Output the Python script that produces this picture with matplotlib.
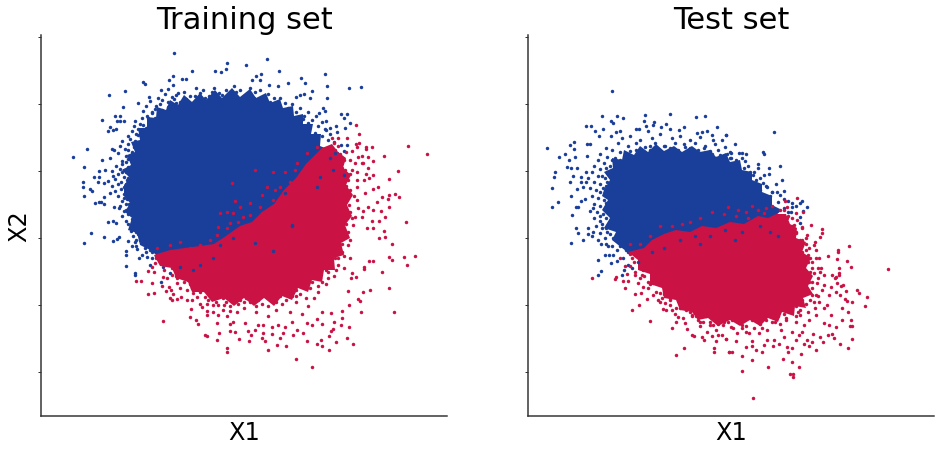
import matplotlib
matplotlib.use('Agg')
import matplotlib.pyplot as plt

# values, axes have no tick labels so units are arbitrary
blue = '#1A3F9A'
red = '#CB1244'
y_ticks = [37, 104, 171, 238, 305, 372]

# solid areas where the points fully overlap
train_blue_core = [(124,185),(130,178),(122,170),(131,165),(127,155),(135,152),(131,142),(140,140),(138,128),(147,128),(147,117),(156,118),(157,107),(166,110),(170,100),(178,105),(184,95),(192,102),(200,93),(206,100),(215,90),(222,98),(232,88),(240,97),(250,89),(256,98),(266,93),(270,103),(280,99),(283,108),(293,106),(294,116),(303,114),(303,124),(313,124),(311,134),(321,134),(320,146),(330,150),(300,200),(200,260),(160,258),(150,250),(140,245),(137,233),(128,230),(132,218),(125,212),(130,203),(124,196)]
train_red_core = [(322,148),(332,144),(338,152),(346,158),(343,168),(351,175),(346,185),(353,195),(347,205),(352,216),(345,225),(350,238),(341,243),(344,255),(334,258),(335,270),(324,270),(322,282),(312,280),(308,292),(298,288),(292,300),(282,296),(274,306),(264,298),(254,306),(244,298),(234,306),(224,298),(212,302),(204,292),(192,292),(188,282),(176,278),(172,268),(160,266),(154,255),(170,250),(200,246),(214,244),(226,236),(240,226),(252,222),(262,212),(274,204),(284,190),(296,178),(306,164),(314,156)]
test_blue_core = [(604,190),(610,180),(604,172),(613,168),(612,158),(622,160),(624,150),(634,155),(640,146),(648,152),(656,144),(664,151),(674,146),(682,152),(692,146),(700,152),(710,150),(716,157),(726,153),(730,162),(740,160),(742,170),(752,172),(752,180),(762,184),(762,192),(772,196),(772,205),(782,210),(775,216),(700,250),(630,254),(622,248),(612,240),(616,232),(604,228),(610,218),(602,210),(608,200),(602,196)]
test_red_core = [(776,214),(786,214),(790,224),(797,228),(796,238),(806,242),(802,252),(811,258),(806,268),(813,276),(808,286),(813,294),(803,298),(806,308),(795,306),(794,316),(782,312),(778,322),(768,318),(760,326),(750,320),(740,326),(730,320),(718,326),(708,318),(698,320),(692,312),(680,310),(676,300),(664,298),(662,288),(650,284),(650,274),(638,270),(638,260),(628,252),(644,248),(652,240),(664,234),(676,230),(690,232),(702,226),(716,228),(730,222),(744,224),(758,216),(768,218)]

train_blue_pts = [(174,53),(227,63),(192,71),(173,76),(169,80),(182,79),(186,79),(215,71),(221,72),(226,69),(143,82),(145,84),(125,91),(109,95),(161,90),(173,85),(168,89),(149,97),(138,103),(123,107),(102,120),(115,116),(120,116),(117,121),(120,121),(124,121),(110,127),(108,131),(113,130),(116,129),(87,149),(73,157),(84,167),(102,160),(110,158),(112,149),(99,171),(105,170),(94,177),(99,177),(83,182),(98,182),(104,183),(83,187),(90,189),(92,191),(84,196),(110,193),(104,197),(95,203),(99,202),(101,202),(104,204),(114,207),(119,208),(108,222),(113,221),(116,223),(84,243),(91,233),(104,237),(113,241),(117,239),(119,237),(126,251),(126,255),(126,266),(135,273),(135,275),(139,258),(142,255),(137,249),(132,246),(128,241),(135,242),
    (267,59),(246,65),(279,71),(261,74),(256,76),(252,80),(260,80),(301,78),(325,74),(288,83),(305,83),(327,86),(349,88),(361,87),(312,91),(296,97),(300,95),(304,94),(327,98),(310,98),(278,86),(269,85),(341,114),(347,114),(344,118),(350,123),(345,128),(336,126),(326,121),(319,113),(323,108),(325,111),(330,128),(325,129),(337,132),(347,145),(341,145),(344,151),(337,153),
    (161,282),(170,273),(163,267),(165,262),(150,265),(147,257),(152,252),(157,255),(168,258),
    # fringe around the solid area
    (165,94),(172,97),(178,93),(195,96),(200,93),(205,98),(212,92),(222,95),(232,97),(236,92),(248,95),(255,92),(150,101),(158,98),(180,102),(186,99),(192,103),(198,100),(208,102),(216,99),(224,101),(230,98),(243,100),(262,97),(270,102),(146,106),(160,104),(168,107),(176,103),(184,106),(190,108),(206,106),(214,104),(222,107),(238,105),(250,103),(258,106),(268,104),(276,108),(143,111),(155,109),(165,112),(173,108),(181,111),(197,109),(205,111),(247,108),(262,110),(272,107),(284,110),(147,116),(152,113),(160,117),(170,114),(178,116),(270,116),(280,114),(290,117),(135,121),(142,118),(150,122),(158,119),(166,121),(275,120),(285,118),(295,122),(303,119),(134,126),(140,124),(148,127),(156,124),(292,125),(300,127),(308,123),(132,131),(138,129),(145,132),(153,129),(302,132),(308,129),(315,133),(128,136),(136,134),(142,137),(150,134),(310,136),(318,138),(122,141),(130,139),(136,142),(144,139),(120,146),(128,144),(134,147),(140,144),(114,150),(118,153),(125,149),(132,152),(138,149),(144,152),(126,156),(132,154),(136,157),(142,155),(122,161),(128,159),(134,162),(140,160),(116,166),(122,164),(128,167),(136,165),(112,171),(120,169),(126,172),(132,170),(138,173),(113,176),(118,174),(124,177),(130,175),(136,178),(108,181),(115,179),(121,182),(127,180),(133,183),(112,186),(118,184),(124,187),(130,185),(115,191),(121,189),(127,192),(132,190),(118,196),(124,194),(130,197),(122,201),(127,199),(133,202),(120,206),(126,204),(132,207),(136,205),(124,211),(130,209),(136,212),(122,216),(128,214),(134,217),(140,215),(126,221),(132,219),(138,222),(131,226),(136,224),(142,227),(131,231),(134,229),(140,232),(146,230),(133,236),(138,234),(144,237),(150,235),(136,240),(142,242),(148,239),(154,243),(136,246),(145,248),(152,245),(158,249),
    # denser ring next to the solid area
    (152,112),(156,106),(162,100),(168,102),(174,99),(176,95),(184,92),(190,96),(196,88),(203,90),(209,96),(214,88),(219,93),(226,90),(228,98),(234,86),(240,90),(244,96),(250,88),(254,98),(260,90),(264,100),(268,94),(274,98),(276,104),(280,98),(285,103),(288,108),(292,104),(296,112),(300,108),(304,116),(308,112),(312,120),(316,116),(318,126),(322,122),(326,130),(322,136),(328,140),(330,134),(334,142),(148,118),(143,125),(138,135),(142,131),(135,141),(128,150),(131,157),(126,162),(130,168),(124,170),(128,178),(122,172),(126,184),(129,192),(124,198),(129,204),(126,210),(131,214),(128,224),(134,221),(136,232),(140,240),(146,244),(150,250),(156,256),(146,252),(152,258),(128,195),(133,188),(134,172),(137,162),(140,147),(146,128),(155,118),(162,110),(170,106)]
train_red_pts = [(356,125),(359,134),(408,146),(427,154),(384,156),(372,147),(366,147),(366,149),(359,143),(356,144),(373,161),(368,157),(362,156),(362,163),(368,168),(398,171),(389,179),(373,175),(369,178),(366,174),(378,187),(373,189),(389,195),(395,194),(399,197),(388,199),(382,197),(377,202),(389,207),(381,211),(385,217),(406,222),(379,221),(373,210),(368,207),(363,211),(372,221),(367,228),(373,228),(347,138),(338,138),(332,138),(334,143),(352,151),(357,147),(358,157),(355,163),(363,163),(357,172),(352,170),(357,180),(364,180),(357,187),(365,193),(357,200),(358,208),(355,217),(362,217),(353,225),
    (384,231),(385,237),(379,238),(392,244),(415,256),(404,257),(389,257),(392,260),(407,265),(373,261),(369,261),(382,272),(364,267),(364,269),(389,288),(370,290),(363,292),(394,312),(361,312),(358,299),(360,301),(348,291),(356,277),(351,278),(352,273),(349,305),(342,311),(342,318),(334,322),(341,325),(349,327),(331,313),(322,312),(322,324),(333,329),(331,331),(329,336),(347,338),(353,344),(336,342),(321,340),(317,344),(322,346),(329,350),(307,341),(286,346),(277,345),(268,350),(296,359),(312,367),(249,341),(265,341),(262,338),(280,338),(303,333),(293,335),(283,333),(272,334),(263,333),(251,335),(255,330),(248,331),(278,325),(292,322),(285,327),(297,330),(312,325),(317,319),(307,323),(272,327),(263,325),(258,325),(245,323),
    (136,281),(141,281),(152,283),(148,294),(154,293),(163,321),(148,271),(154,272),(162,286),(166,291),(170,298),(172,300),(177,299),(181,297),(173,294),(169,287),(171,290),(190,317),(191,309),(196,320),(198,324),(205,335),(207,336),(219,333),(217,340),(230,331),(235,332),(239,339),(227,348),(227,352),(217,323),(207,315),(207,311),(213,312),(218,315),(227,316),(233,322),(230,324),(200,304),(202,307),(207,304),(213,305),(218,305),(223,310),(230,311),(237,312),(187,300),(192,300),(197,297),(205,297),(213,295),(223,298),(233,300),(177,283),(180,288),(187,290),(193,293),(167,278),(172,275),(163,277),(177,278),(152,267),(155,263),(160,258),(170,265),
    # fringe
    (345,232),(338,240),(348,245),(342,252),(335,258),(350,258),(338,265),(330,262),(344,268),(328,272),(320,278),(334,276),(312,282),(326,284),(318,292),(306,288),(300,294),(314,298),(296,302),(286,300),(308,306),(272,298),(262,304),(250,302),(244,308),(256,312),(276,310),(290,312),(302,314),(268,316),(240,300),(226,302),(345,170),(340,158),(348,180),(344,192),(349,205),(343,215),(346,224),(338,146),(330,150),(350,160),(342,175),(347,198),(183,276),(190,284),(200,292),(175,270),(168,262),(212,298),(224,305),
    # denser ring next to the solid area
    (328,150),(335,150),(340,154),(344,160),(336,162),(342,168),(346,174),(340,184),(346,186),(350,190),(344,200),(350,212),(344,208),(347,218),(342,226),(348,232),(338,232),(342,244),(336,248),(332,254),(338,258),(330,266),(322,262),(326,270),(318,272),(322,282),(314,278),(308,280),(310,288),(302,284),(296,290),(290,288),(292,296),(284,292),(280,296),(276,302),(270,296),(264,294),(258,300),(252,300),(246,298),(240,296),(234,298),(238,304),(228,298),(220,296),(216,292),(210,292),(204,290),(198,288),(194,282),(188,280),(186,274),(178,270),(172,268),(166,262),(160,262),(156,258),(164,270),(176,276),(184,282),(192,288),(208,300),(216,302),(230,306),(244,302),(256,306),(268,306),(282,304),(296,296),(306,298),(318,286),(328,278),(336,270),(344,256),(350,240),(352,218),(354,196),(350,174),(346,152),
    # specks inside the blue area
    (232,183),(235,201),(220,213),(230,223),(227,212),(233,213),(240,207),(218,227),(273,172),(267,187),(255,170),(297,163),(307,153),(317,147),(303,175),(290,182),(280,187),(273,200),(260,207),(250,203),(243,217),(260,220),(193,258),(200,245),(217,235),(227,228),(180,242),(170,245),(157,248),(285,172),(275,190),(295,170),(262,195),(250,215),(238,222),(210,240),(190,248)]
train_blue_top = [(213,258),(200,265),(193,270),(180,267),(220,245),(233,238),(255,243),(273,251),(292,225),(344,175),(292,226),(285,193),(317,187),(320,177),(333,170),(330,158),(335,153)]

test_blue_pts = [(612,91),(602,116),(617,116),(623,118),(645,115),(670,114),(696,117),(705,116),(644,121),(654,122),(653,125),(666,124),(611,121),(613,123),(586,126),(591,126),(603,129),(595,131),(616,132),(620,131),(636,129),(639,129),(646,126),(648,131),(661,127),(670,129),(679,130),(684,127),(717,127),(697,133),(702,132),(707,131),(726,135),(713,140),(599,136),(611,136),(547,148),(570,145),(574,142),(574,149),(587,144),(590,144),(565,154),(559,157),(569,160),(575,157),(587,156),(567,167),(571,168),(577,168),(555,172),(554,177),(573,176),(570,182),(552,188),(558,202),(552,207),(572,215),(576,228),(571,196),(577,189),(581,177),(586,172),(581,182),(586,182),(583,187),(576,207),(578,207),(581,201),(585,199),(590,211),(593,208),(588,228),
    (774,132),(726,135),(763,152),(764,154),(739,153),(742,153),(746,154),(727,154),(731,153),(731,158),(745,161),(738,165),(758,164),(758,168),(769,168),(780,166),(782,180),(769,174),(753,175),(764,175),(776,184),(763,183),(767,187),(777,192),(784,191),(780,195),(772,192),(784,199),(788,201),(792,203),(802,201),(800,203),(807,207),(796,206),(803,211),(792,207),(791,212),(800,217),(800,223),
    (571,243),(583,240),(598,260),(601,271),(598,275),(605,255),(609,255),(611,263),(617,261),(622,275),(624,270),(613,255),(608,246),(601,244),(593,232),(588,234),(578,233),(598,240),(605,238),(617,250),(623,258),(632,268),(643,270),(628,265),
    # fringe
    (622,138),(630,136),(640,140),(652,138),(660,134),(672,138),(680,136),(690,140),(700,137),(712,135),(722,140),(618,143),(628,146),(636,143),(645,147),(655,143),(665,146),(675,143),(685,147),(695,143),(705,146),(715,144),(725,147),(735,144),(606,148),(612,150),(620,152),(630,151),(640,154),(650,150),(660,153),(670,151),(680,154),(690,150),(700,153),(710,151),(720,155),(730,158),(600,154),(607,157),(615,158),(625,157),(636,160),(646,156),(656,159),(668,157),(680,160),(692,156),(704,159),(716,158),(726,161),(736,162),(744,168),(750,172),(756,180),(598,160),(604,163),(610,166),(618,163),(626,166),(742,175),(748,180),(754,186),(760,190),(770,196),(594,166),(600,169),(607,172),(614,170),(592,172),(598,176),(605,178),(612,176),(588,178),(594,182),(600,184),(607,182),(590,188),(596,190),(603,188),(609,192),(592,196),(598,198),(605,195),(610,199),(594,204),(600,206),(606,203),(597,212),(603,214),(609,210),(594,218),(600,221),(606,218),(612,215),(596,226),(602,228),(608,225),(614,228),(592,236),(600,233),(607,232),(613,238),(606,244),(612,246),(620,244),(626,250),
    # denser ring next to the solid area
    (620,160),(628,155),(636,150),(644,152),(650,146),(658,150),(664,146),(670,148),(678,150),(684,144),(690,148),(698,150),(704,148),(712,154),(718,150),(724,156),(730,152),(736,160),(742,158),(748,166),(754,172),(760,178),(766,186),(772,192),(778,202),(784,208),(788,212),(612,160),(606,168),(602,176),(606,186),(600,192),(604,200),(600,216),(606,228),(610,234),(616,240),(620,246),(628,252),(616,180),(610,204),(614,200),(612,172),(618,168),(602,224)]
test_red_pts = [(797,198),(785,201),(772,206),(787,207),(784,210),(803,212),(811,225),(822,229),(796,213),(792,218),(797,220),(787,218),(781,220),(802,227),(794,225),(774,217),(764,213),(767,222),
    (822,233),(820,237),(815,242),(849,246),(838,250),(838,252),(888,269),(828,256),(837,259),(847,261),(851,267),(839,268),(839,273),(839,275),(832,275),(836,277),(835,278),(837,283),(843,285),(841,286),(846,291),(857,290),(859,293),(867,297),(840,295),(845,299),(847,301),(852,302),(865,306),(842,308),(848,312),(851,320),(842,320),(850,326),(852,326),(836,327),(832,334),(828,335),(834,338),(852,339),(840,344),(848,348),(823,342),(820,337),(816,350),(809,346),(804,344),(801,354),(792,348),(787,347),(788,352),(783,359),(792,362),(799,367),(790,374),(793,374),(793,377),(768,367),(752,360),(742,356),(742,371),(753,398),(762,352),(756,350),(746,347),(732,352),(729,352),(736,341),(726,339),(752,341),(752,346),(764,345),(773,346),(779,344),(796,340),(807,340),(812,342),(813,334),(824,323),(829,325),(831,315),(824,308),(827,305),(831,287),(836,292),(829,295),(824,285),(819,302),(814,302),(809,320),(802,332),(799,335),(792,332),(784,337),(774,340),(767,340),(759,333),(749,333),(737,333),(731,327),(742,325),(754,328),(767,330),(781,330),(796,322),(804,325),(816,315),(821,268),(824,275),(819,258),(814,245),(809,248),(812,262),(814,273),(809,282),(817,283),(807,235),(802,228),(796,233),
    (592,278),(615,279),(616,277),(623,281),(628,281),(625,288),(635,294),(641,293),(647,299),(639,305),(632,310),(650,321),(663,309),(666,310),(672,328),(676,322),(676,355),(684,348),(692,335),(694,336),(687,329),(702,337),(704,340),(714,348),(714,352),(716,341),(729,352),(726,339),(712,336),(718,335),(722,335),(707,332),(710,325),(723,325),(698,320),(685,323),(678,317),(675,314),(683,318),(692,315),(703,322),(665,303),(658,300),(653,295),(643,287),(648,288),(635,275),(638,283),(627,274),(620,258),(625,266),(630,266),(635,272),(642,275),(653,283),(660,293),(670,300),(680,308),(690,312),(713,325),(733,328),
    # fringe
    (700,322),(742,328),(760,322),(775,322),(786,318),(800,310),(810,300),(816,295),(810,272),(818,268),(808,255),(812,295),(800,315),(728,322),(714,320),(696,316),(670,305),(662,298),(648,282),(640,268),(632,258),(802,240),(806,250),(810,258),(816,250),(818,278),(822,290),(815,308),
    # denser ring next to the solid area
    (780,210),(788,216),(792,226),(796,232),(800,240),(806,244),(802,252),(808,262),(812,268),(806,274),(812,282),(806,292),(812,288),(802,300),(806,304),(796,306),(798,312),(790,310),(784,314),(786,320),(778,316),(772,322),(766,320),(760,324),(752,320),(746,326),(738,322),(732,320),(724,322),(718,324),(710,322),(706,316),(700,314),(692,316),(686,310),(680,304),(676,308),(670,298),(664,294),(656,292),(650,284),(644,276),(640,278),(634,262),(630,254),(660,302),(672,310),(700,326),(716,330),(746,332),(762,328),(780,324),(796,316),(808,312),(818,296),(820,272),(816,258),(806,238),
    # specks in the blue area
    (690,222),(700,218),(712,212),(724,214),(736,216),(746,212),(752,206),(758,210),(766,208),(650,236),(660,226),(672,226),(682,224),(640,244),(630,244),(748,218),(728,207),(738,210)]
test_blue_top = [(638,262),(652,252),(664,248),(680,240),(695,236),(710,236),(725,230),(742,232),(760,226),(770,232),(778,236),(735,240),(700,244)]

fig = plt.figure(figsize=(944 / 72, 451 / 72), dpi=72)


def draw_panel(left, title, blue_core, red_core, blue_pts, red_pts, blue_top, ylabel=None):
    ax = fig.add_axes([left / 944, (451 - 416.3) / 451, 405.5 / 944, 381.3 / 451])
    ax.fill(*zip(*blue_core), color=blue, lw=0)
    ax.scatter(*zip(*blue_pts), s=12, color=blue, lw=0)
    ax.fill(*zip(*red_core), color=red, lw=0)
    ax.scatter(*zip(*red_pts), s=12, color=red, lw=0)
    ax.scatter(*zip(*blue_top), s=12, color=blue, lw=0)
    ax.set_xlim(left, left + 405.5)
    ax.set_ylim(416.3, 35)
    ax.set_xticks([])
    ax.set_yticks(y_ticks)
    ax.set_yticklabels([])
    ax.tick_params(axis='y', length=3, width=1, color='#333333')
    for side in ['top', 'right']:
        ax.spines[side].set_visible(False)
    for side in ['left', 'bottom']:
        ax.spines[side].set_linewidth(1.5)
        ax.spines[side].set_color('#333333')
    ax.set_title(title, fontsize=30.5, pad=6)
    ax.set_xlabel('X1', fontsize=24, labelpad=5)
    if ylabel:
        ax.set_ylabel(ylabel, fontsize=24, labelpad=4)
    return ax


draw_panel(41.3, 'Training set', train_blue_core, train_red_core, train_blue_pts, train_red_pts, train_blue_top, ylabel='X2')
draw_panel(528.3, 'Test set', test_blue_core, test_red_core, test_blue_pts, test_red_pts, test_blue_top)

fig.savefig('out.png', dpi=72)
